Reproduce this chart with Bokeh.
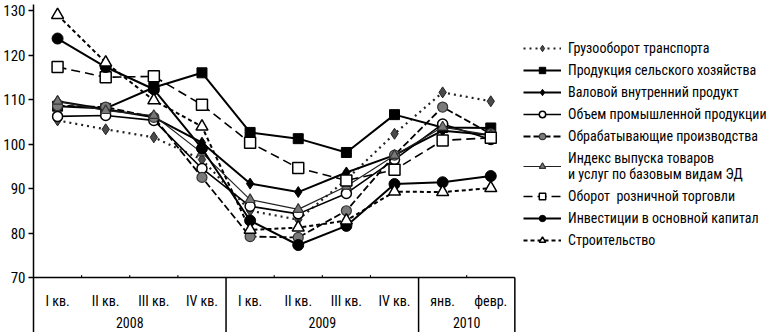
from bokeh.plotting import figure
from bokeh.models import Range1d, FixedTicker, Legend, LegendItem
from bokeh.core.properties import value
from bokeh.embed import file_html
from bokeh.resources import INLINE

FONT = "'Liberation Sans Narrow', 'Roboto Condensed', 'DejaVu Sans Condensed', 'Liberation Sans', sans-serif"

quarters = ["I кв.", "II кв.", "III кв.", "IV кв.", "I кв.", "II кв.", "III кв.", "IV кв.", "янв.", "февр."]
years = ["2008", "2009", "2010"]
year_spans = [(0, 3), (4, 7), (8, 9)]
y_ticks = [70, 80, 90, 100, 110, 120, 130]

gruz = [105.3, 103.3, 101.5, 96.5, 85.0, 83.0, 92.0, 102.3, 111.6, 109.6]
selhoz = [108.5, 108.0, 112.7, 116.0, 102.6, 101.2, 98.1, 106.6, 103.7, 103.6]
vvp = [109.6, 107.8, 106.0, 100.3, 91.1, 89.2, 93.6, 97.5, 103.0, 102.0]
prom = [106.2, 106.4, 105.3, 94.5, 86.0, 84.3, 88.9, 96.5, 104.5, 101.0]
obrab = [108.6, 108.3, 106.0, 92.5, 79.2, 79.0, 85.0, 97.5, 108.3, 102.3]
indeks = [109.6, 107.5, 106.4, 98.0, 87.5, 85.3, 90.5, 97.4, 103.8, 102.0]
roznica = [117.3, 115.0, 115.2, 108.8, 100.3, 94.6, 91.8, 94.2, 100.8, 101.4]
invest = [123.7, 117.3, 112.3, 99.0, 82.8, 77.3, 81.6, 91.0, 91.4, 92.8]
stroi = [129.0, 118.3, 109.8, 103.9, 80.7, 81.2, 82.8, 89.3, 89.2, 90.1]

names = ["Грузооборот транспорта", "Продукция сельского хозяйства", "Валовой внутренний продукт",
         "Объем промышленной продукции", "Обрабатывающие производства",
         "Индекс выпуска товаров\nи услуг по базовым видам ЭД", "Оборот  розничной торговли",
         "Инвестиции в основной капитал", "Строительство"]

W, H = 772, 332
LEFT, TOP = 32, 4
UNIT = 48.2          # px per category
PXV = 4.45           # px per index point
frame_w = W - LEFT
frame_h = H - TOP
y0 = 70 - 55 / PXV
p = figure(width=W, height=H, output_backend="svg", toolbar_location=None,
           x_range=Range1d(-0.5, -0.5 + frame_w / UNIT),
           y_range=Range1d(y0, y0 + frame_h / PXV),
           x_axis_location=None, min_border_left=LEFT, min_border_right=0,
           min_border_top=TOP, min_border_bottom=0)
p.outline_line_color = None
p.grid.visible = False
p.background_fill_color = "white"

ya = p.yaxis[0]
ya.ticker = FixedTicker(ticks=y_ticks)
ya.minor_tick_line_color = None
ya.major_tick_out = 5
ya.major_tick_in = 0
ya.axis_line_width = 1.5
ya.major_tick_line_width = 1.5
ya.major_label_text_font = FONT
ya.major_label_text_font_size = "15px"
ya.major_label_text_color = "black"
ya.major_label_standoff = 3

xs = list(range(len(quarters)))
n = len(quarters)

# manual category axis
p.segment(x0=[-0.5], y0=[70], x1=[n - 0.5], y1=[70], line_color="black", line_width=1.5)
seps = [b + 0.5 for (_, b) in year_spans]
p.segment(x0=seps, y0=[y0] * len(seps), x1=seps, y1=[70] * len(seps), line_color="black", line_width=1.5)
inner = [i + 0.5 for (a, b) in year_spans for i in range(a, b)]
p.segment(x0=inner, y0=[70] * len(inner), x1=inner, y1=[70 + 2.5 / PXV] * len(inner),
          line_color="black", line_width=1)
p.text(x=xs, y=[70 - 23 / PXV] * n, text=quarters, text_align="center", text_baseline="middle",
       text_font=value(FONT), text_font_size="14px", text_color="black")
p.text(x=[(a + b) / 2 for (a, b) in year_spans], y=[70 - 45 / PXV] * len(years), text=years,
       text_align="center", text_baseline="middle", text_font=value(FONT), text_font_size="14px",
       text_color="black")

series = [
    (gruz, dict(line_dash="dotted", line_width=2.2, line_color="#222"), "diamond", dict(size=11, fill_color="#4a4a4a", line_color="#222")),
    (selhoz, dict(line_width=2, line_color="black"), "square", dict(size=10, fill_color="black", line_color="black")),
    (vvp, dict(line_width=2, line_color="black"), "diamond", dict(size=11, fill_color="black", line_color="black")),
    (prom, dict(line_width=1.6, line_color="black"), "circle", dict(size=10, fill_color="white", line_color="black", line_width=1.5)),
    (obrab, dict(line_dash="7 3", line_width=1.8, line_color="black"), "circle", dict(size=10, fill_color="#7a7a7a", line_color="#333", line_width=1.2)),
    (indeks, dict(line_width=1.2, line_color="#222"), "triangle", dict(size=10, fill_color="#777", line_color="#333", line_width=1.2)),
    (roznica, dict(line_dash="9 5", line_width=1.6, line_color="black"), "square", dict(size=11, fill_color="white", line_color="black", line_width=1.5)),
    (invest, dict(line_width=2, line_color="black"), "circle", dict(size=11, fill_color="black", line_color="black")),
    (stroi, dict(line_dash="4 3", line_width=2, line_color="black"), "triangle", dict(size=12, fill_color="white", line_color="black", line_width=1.5)),
]

items = []
for (vals, lkw, marker, mkw), name in zip(series, names):
    r1 = p.line(xs, vals, **lkw)
    r2 = p.scatter(xs, vals, marker=marker, **mkw)
    items.append(LegendItem(label=name, renderers=[r1, r2]))

legend = Legend(items=items, location=(490, 84))
legend.label_text_font = FONT
legend.label_text_font_size = "14px"
legend.label_text_color = "black"
legend.glyph_width = 38
legend.glyph_height = 16
legend.label_height = 16
legend.spacing = 6
legend.padding = 0
legend.margin = 0
legend.label_standoff = 7
legend.border_line_color = None
legend.background_fill_alpha = 0
p.add_layout(legend)

open("out.html", "w").write(file_html(p, INLINE))
